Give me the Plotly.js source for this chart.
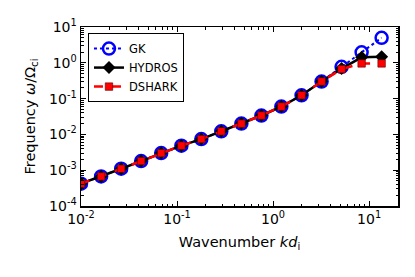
<!DOCTYPE html>
<html><head><meta charset="utf-8">
<script src="https://cdn.plot.ly/plotly-3.0.1.min.js"></script>
<style>html,body{margin:0;padding:0;background:#fff}#c{width:415px;height:277px}</style>
</head><body><div id="c"></div>
<script>
const kd = [0.01, 0.0162, 0.0262, 0.0423, 0.0684, 0.111, 0.179, 0.289, 0.468, 0.756, 1.22, 1.98, 3.2, 5.17, 8.36, 13.5];
const gk = [4.2e-4, 6.7e-4, 1.10e-3, 1.80e-3, 3.0e-3, 4.85e-3, 7.4e-3, 1.22e-2, 2.0e-2, 3.37e-2, 6.0e-2, 0.124, 0.30, 0.77, 1.96, 5.0];
const hydros = [4.2e-4, 6.7e-4, 1.10e-3, 1.80e-3, 3.0e-3, 4.85e-3, 7.4e-3, 1.22e-2, 2.0e-2, 3.37e-2, 6.0e-2, 0.124, 0.30, 0.69, 1.42, 1.47];
const dshark = [4.2e-4, 6.7e-4, 1.10e-3, 1.80e-3, 3.0e-3, 4.85e-3, 7.4e-3, 1.22e-2, 2.0e-2, 3.37e-2, 6.0e-2, 0.124, 0.30, 0.667, 0.96, 0.96];
const xTickVals = [0.01, 0.1, 1, 10];
const xTickText = ['10<sup>-2</sup>', '10<sup>-1</sup>', '10<sup>0</sup>', '10<sup>1</sup>'];
const yTickVals = [1e-4, 1e-3, 1e-2, 1e-1, 1, 10];
const yTickText = ['10<sup>-4</sup>', '10<sup>-3</sup>', '10<sup>-2</sup>', '10<sup>-1</sup>', '10<sup>0</sup>', '10<sup>1</sup>'];

function minorVals(lo, hi){const v=[];for(let e=lo;e<hi;e++){for(let m=2;m<10;m++)v.push(m*Math.pow(10,e));}return v;}

const traces = [
 {x: kd, y: gk, name: 'GK', mode: 'lines+markers',
  line: {color: '#0000ff', width: 2, dash: 'dot'},
  marker: {symbol: 'circle-open', size: 12, color: '#0000ff', line: {width: 2.5, color: '#0000ff'}}},
 {x: kd, y: hydros, name: 'HYDROS', mode: 'lines+markers',
  line: {color: '#000000', width: 2.5},
  marker: {symbol: 'diamond', size: 10, color: '#000000'}},
 {x: kd, y: dshark, name: 'DSHARK', mode: 'lines+markers',
  line: {color: '#ff0000', width: 2.5, dash: 'dash'},
  marker: {symbol: 'square', size: 7.5, color: '#ff0000', line: {width: 0.6, color: '#550000'}}}
];
const axBase = {type: 'log', showgrid: false, zeroline: false, showline: true, linecolor: '#000', linewidth: 1.5,
  mirror: 'allticks', ticks: 'inside', ticklen: 5, tickwidth: 1, tickcolor: '#000',
  tickfont: {family: 'DejaVu Sans', size: 14, color: '#000'}};
const layout = {
 width: 415, height: 277, paper_bgcolor: '#fff', plot_bgcolor: '#fff',
 margin: {l: 81, r: 17, t: 27, b: 71},
 font: {family: 'DejaVu Sans', color: '#000'},
 showlegend: true,
 legend: {x: 0.022, y: 0.966, xanchor: 'left', yanchor: 'top', bgcolor: '#fff', bordercolor: '#000', borderwidth: 1,
   font: {family: 'DejaVu Sans', size: 11.5, color: '#000'}, tracegroupgap: 0},
 xaxis: Object.assign({}, axBase, {range: [-2, Math.log10(20)], tickmode: 'array', tickvals: xTickVals, ticktext: xTickText,
   minor: {tickmode: 'array', tickvals: minorVals(-2, 2), ticks: 'inside', ticklen: 2.5, tickcolor: '#000'},
   title: {text: 'Wavenumber <i>kd</i><sub>i</sub>', font: {family: 'DejaVu Sans', size: 14.5}, standoff: 10}}),
 yaxis: Object.assign({}, axBase, {range: [-4, 1], tickmode: 'array', tickvals: yTickVals, ticktext: yTickText,
   minor: {tickmode: 'array', tickvals: minorVals(-4, 1), ticks: 'inside', ticklen: 2.5, tickcolor: '#000'},
   title: {text: 'Frequency <i>ω</i>/Ω<sub>ci</sub>', font: {family: 'DejaVu Sans', size: 14.5}, standoff: 10}})
};
Plotly.newPlot('c', traces, layout, {staticPlot: true, displayModeBar: false});
</script></body></html>
